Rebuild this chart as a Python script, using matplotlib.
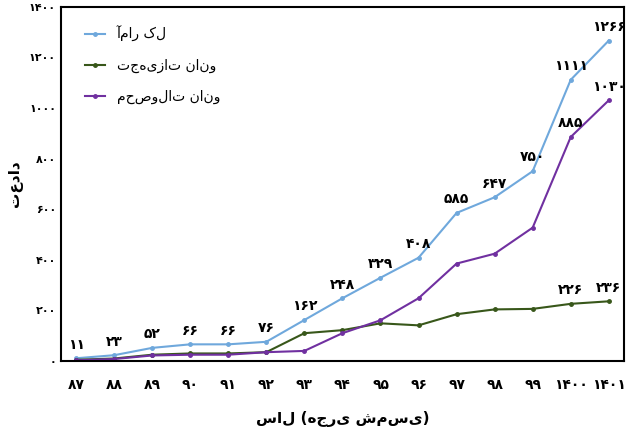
import numpy as np
import matplotlib
matplotlib.use("Agg")
import matplotlib.pyplot as plt

plt.rcParams['font.family'] = ['DejaVu Sans']

years = ["87", "88", "89", "90", "91", "92", "93", "94", "95", "96", "97", "98", "99", "1400", "1401"]
total = [11, 23, 52, 66, 66, 76, 162, 248, 329, 408, 585, 647, 750, 1111, 1266]
tools = [5, 10, 25, 30, 30, 35, 110, 122, 149, 141, 185, 204, 206, 226, 236]
products = [3, 8, 22, 25, 25, 35, 40, 110, 161, 248, 385, 424, 527, 885, 1030]

FA = str.maketrans("0123456789", "۰۱۲۳۴۵۶۷۸۹")


def fa(s):
    return str(s).translate(FA)


fig, ax = plt.subplots(figsize=(6.4, 4.43), dpi=100)
fig.subplots_adjust(left=0.095, right=0.975, top=0.985, bottom=0.185)

x = np.arange(len(years))
ax.plot(x, total, color="#6fa8dc", marker="o", ms=2.5, lw=1.5, label="آمار کل")
ax.plot(x, tools, color="#38571a", marker="o", ms=2.5, lw=1.5, label="تجهیزات نانو")
ax.plot(x, products, color="#7030a0", marker="o", ms=2.5, lw=1.5, label="محصولات نانو")

for i, v in enumerate(total):
    ax.annotate(fa(v), (x[i], v), xytext=(0, 7), textcoords="offset points",
                ha="center", fontsize=10, fontweight="bold")
for i in (13, 14):
    ax.annotate(fa(tools[i]), (x[i], tools[i]), xytext=(0, 7), textcoords="offset points",
                ha="center", fontsize=10, fontweight="bold")
    ax.annotate(fa(products[i]), (x[i], products[i]), xytext=(0, 7), textcoords="offset points",
                ha="center", fontsize=10, fontweight="bold")

ax.set_xlim(-0.4, len(years) - 0.6)
ax.set_ylim(0, 1400)
ax.set_yticks(range(0, 1401, 200))
ax.set_yticklabels([fa(v) for v in range(0, 1401, 200)], fontsize=8, fontweight="bold")
ax.set_xticks(x)
ax.set_xticklabels([fa(y) for y in years], fontsize=10, fontweight="bold")
ax.tick_params(axis="x", length=0, pad=12)
ax.tick_params(axis="y", length=0)
for s in ax.spines.values():
    s.set_linewidth(1.5)
ax.set_ylabel("تعداد", fontsize=11, fontweight="bold")
ax.set_xlabel("سال (هجری شمسی)", fontsize=11, fontweight="bold", labelpad=14)

ax.legend(loc="upper left", frameon=False, fontsize=10, handlelength=1.5,
          labelspacing=1.2, bbox_to_anchor=(0.02, 0.98))

fig.savefig("out.png", dpi=100)
